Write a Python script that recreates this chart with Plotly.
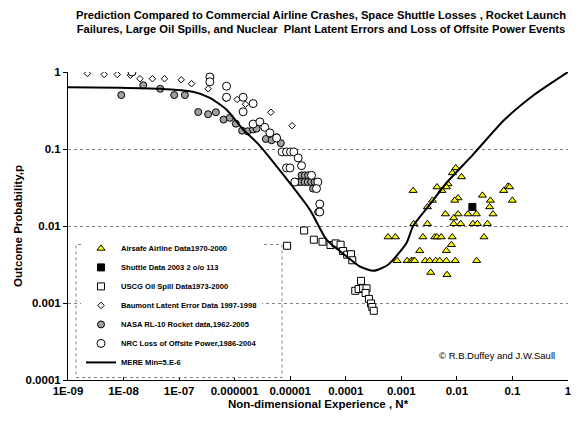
import plotly.graph_objects as go

# ---------------- data ----------------
airsafe_x = [9.53e-3, 8.30e-3, 1.21e-2, 1.63e-3, 4.39e-3, 6.92e-3, 6.47e-3, 5.39e-3, 0.0830, 0.0695,
             0.0891, 0.0288, 0.0105, 9.14e-3, 3.63e-3, 0.0401, 0.0995, 2.95e-3, 0.0389, 6.21e-3,
             0.0105, 0.0158, 0.0224, 0.0447, 8.77e-3, 8.77e-3, 0.0117, 0.0195, 0.0234, 0.0354,
             1.67e-3, 2.95e-3,
             5.77e-4, 7.83e-4, 2.45e-3, 3.99e-3, 4.39e-3, 5.22e-3, 8.24e-3, 0.0308,
             7.96e-3, 2.14e-3, 6.47e-3,
             8.38e-4, 1.27e-3, 1.51e-3, 1.63e-3, 1.74e-3, 2.69e-3, 3.24e-3, 4.16e-3, 4.91e-3, 6.47e-3,
             9.33e-3, 0.0227,
             3.38e-3, 6.64e-3]
airsafe_y = [0.0568, 0.0489, 0.0434, 0.0288, 0.0321, 0.0352, 0.0321, 0.0288, 0.0327, 0.0288,
             0.0321, 0.0250, 0.0231, 0.0215, 0.0215, 0.0215, 0.0215, 0.0177, 0.0177, 0.0143,
             0.0143, 0.0143, 0.0143, 0.0143, 0.0127, 0.0107, 0.0107, 0.0107, 0.0107, 0.0107,
             0.0107, 0.0107,
             0.00719, 0.00719, 0.00719, 0.00719, 0.00719, 0.00719, 0.00719, 0.00719,
             0.00571, 0.00478, 0.00478,
             0.00354, 0.00354, 0.00354, 0.00354, 0.00354, 0.00354, 0.00354, 0.00354, 0.00354, 0.00354,
             0.00354, 0.00354,
             0.00249, 0.00233]

shuttle_x = [0.0190]
shuttle_y = [0.0177]

uscg_x = [1.78e-5, 8.79e-6, 2.66e-5, 3.81e-5, 5.31e-5, 6.56e-5, 8.07e-5, 8.95e-5, 1.06e-4, 1.24e-4,
          1.31e-4,
          1.88e-4, 1.48e-4, 1.70e-4, 2.05e-4, 2.36e-4, 2.27e-4, 2.61e-4, 2.85e-4, 3.00e-4, 3.19e-4]
uscg_y = [0.00874, 0.00554, 0.00664, 0.00625, 0.00566, 0.00594, 0.00571, 0.00473, 0.00424, 0.00430,
          0.00359,
          0.00194, 0.00144, 0.00152, 0.00155, 0.00155, 0.00135, 0.00113, 0.000986, 0.000887, 0.000792]

baumont_x = [2.24e-9, 4.48e-9, 7.7e-9, 1.33e-8, 1.97e-8, 3.31e-8, 5.45e-8, 1.09e-7, 1.68e-7, 3.33e-7,
             6.85e-7, 1.11e-6, 1.57e-6, 4.48e-6, 1.08e-5]
baumont_y = [0.956, 0.928, 0.928, 0.909, 0.818, 0.818, 0.818, 0.792, 0.705, 0.605,
             0.452, 0.439, 0.381, 0.300, 0.201]

nasa_x = [9.1e-9, 2.26e-8, 4.57e-8, 8.17e-8, 1.27e-7, 2.21e-7, 3.33e-7, 4.59e-7, 6.31e-7, 8.2e-7,
          1.05e-6, 1.36e-6, 1.71e-6, 2.15e-6, 2.48e-6, 3.64e-6, 4.61e-6, 5.68e-6, 6.78e-6,
          1.60e-5, 1.83e-5, 2.10e-5,
          1.37e-5, 1.57e-5, 1.81e-5, 2.07e-5, 2.38e-5, 2.74e-5,
          2.58e-5, 3.18e-5]
nasa_y = [0.502, 0.673, 0.605, 0.502, 0.502, 0.302, 0.283, 0.300, 0.241, 0.254,
          0.213, 0.173, 0.170, 0.179, 0.184, 0.135, 0.130, 0.142, 0.119,
          0.0455, 0.0455, 0.0455,
          0.0373, 0.0373, 0.0373, 0.0373, 0.0373, 0.0373,
          0.0306, 0.0152]

nrc_x = [1.42e-8, 3.58e-7, 3.58e-7, 7.14e-7, 7.14e-7, 1.42e-6, 2.15e-6, 1.42e-6, 2.15e-6, 2.84e-6,
         3.49e-6, 4.3e-6, 5.68e-6, 7.14e-6, 8.59e-6, 1.01e-5, 1.16e-5, 1.39e-5, 1.60e-5, 8.59e-6,
         9.9e-6, 2.42e-5, 1.21e-5, 3.14e-5, 2.97e-5, 3.4e-5, 3.4e-5]
nrc_y = [1.0, 0.861, 0.746, 0.654, 0.470, 0.470, 0.389, 0.304, 0.211, 0.225,
         0.191, 0.162, 0.139, 0.0917, 0.0917, 0.0917, 0.0917, 0.0766, 0.0608, 0.0568,
         0.0568, 0.0455, 0.0373, 0.0373, 0.0306, 0.0193, 0.0152]

mere_x = [1e-9, 8.6e-9, 4.5e-8, 1.77e-7, 3.58e-7, 7.1e-7, 1.42e-6, 2.72e-6, 2.25e-5, 4.5e-5,
          1.03e-4, 1.79e-4, 3.19e-4, 5.77e-4, 1.24e-3, 1.62e-3, 3.24e-3, 6.47e-3, 0.0195, 0.0724,
          0.25, 1.0]
mere_y = [0.634, 0.625, 0.605, 0.553, 0.462, 0.325, 0.179, 0.114, 0.0163, 0.00664,
          0.00403, 0.00298, 0.00262, 0.00314, 0.00601, 0.00989, 0.0189, 0.0362, 0.0846, 0.241,
          0.51, 1.0]

x_tickvals = [1e-9, 1e-8, 1e-7, 1e-6, 1e-5, 1e-4, 1e-3, 1e-2, 1e-1, 1]
x_ticktext = ["1E-09", "1E-08", "1E-07", "0.000001", "0.00001", "0.0001", "0.001", "0.01", "0.1", "1"]
y_tickvals = [1e-4, 1e-3, 1e-2, 1e-1, 1]
y_ticktext = ["0.0001", "0.001", "0.01", "0.1", "1"]

FONT = "Liberation Sans, Arial, sans-serif"

fig = go.Figure()
fig.add_trace(go.Scatter(x=airsafe_x, y=airsafe_y, mode="markers", name="Airsafe Airline Data1970-2000",
                         marker=dict(symbol="triangle-up", size=7, color="#FFFF00",
                                     line=dict(color="black", width=1))))
fig.add_trace(go.Scatter(x=shuttle_x, y=shuttle_y, mode="markers", name="Shuttle Data 2003 2 o/o 113",
                         marker=dict(symbol="square", size=7, color="black",
                                     line=dict(color="black", width=1))))
fig.add_trace(go.Scatter(x=uscg_x, y=uscg_y, mode="markers", name="USCG Oil Spill Data1973-2000",
                         marker=dict(symbol="square", size=7, color="white",
                                     line=dict(color="black", width=1))))
fig.add_trace(go.Scatter(x=baumont_x, y=baumont_y, mode="markers", name="Baumont Latent Error Data 1997-1998",
                         marker=dict(symbol="diamond", size=5, color="white",
                                     line=dict(color="black", width=1))))
fig.add_trace(go.Scatter(x=nasa_x, y=nasa_y, mode="markers", name="NASA RL-10 Rocket data,1962-2005",
                         marker=dict(symbol="circle", size=7, color="#A0A0A0",
                                     line=dict(color="black", width=1))))
fig.add_trace(go.Scatter(x=nrc_x, y=nrc_y, mode="markers", name="NRC Loss of Offsite Power,1986-2004",
                         marker=dict(symbol="circle", size=8, color="white",
                                     line=dict(color="black", width=1))))
fig.add_trace(go.Scatter(x=mere_x, y=mere_y, mode="lines", name="MERE Min=5.E-6",
                         line=dict(color="black", width=2, shape="spline", smoothing=0.6)))

# page body has an 8px margin, so the figure is sized to fill the rest of the window
fig.update_layout(
    width=571, height=417,
    margin=dict(l=60, r=11, t=64, b=45, autoexpand=False),
    paper_bgcolor="white", plot_bgcolor="white",
    font=dict(family=FONT, size=11, color="black"),
    title=dict(text="Prediction Compared to Commercial Airline Crashes, Space Shuttle Losses , Rocket Launch<br>"
                    "Failures, Large Oil Spills, and Nuclear  Plant Latent Errors and Loss of Offsite Power Events",
               xref="paper", x=0.506, xanchor="center", yref="container", y=0.974, yanchor="top",
               font=dict(family=FONT, size=11.2, weight="bold", color="black")),
    showlegend=True,
    legend=dict(x=0.026, y=0.01, xanchor="left", yanchor="bottom",
                bgcolor="white", borderwidth=0,
                font=dict(family=FONT, size=7.6, weight="bold"),
                itemwidth=30, tracegroupgap=0),
    xaxis=dict(type="log", range=[-9, 0], tickvals=x_tickvals, ticktext=x_ticktext,
               showgrid=False, showline=True, linecolor="black", linewidth=1, automargin=False,
               ticks="inside", ticklen=4, tickcolor="black", zeroline=False,
               tickfont=dict(family=FONT, size=11.5, weight="bold"),
               title=dict(text="Non-dimensional Experience , N*", standoff=4,
                          font=dict(family=FONT, size=11.5, weight="bold"))),
    yaxis=dict(type="log", range=[-4, 0], tickvals=y_tickvals, ticktext=y_ticktext,
               showgrid=True, gridcolor="#808080", griddash="dot", gridwidth=1,
               showline=True, linecolor="black", linewidth=1, automargin=False,
               ticks="outside", ticklen=4, tickcolor="black", zeroline=False,
               tickfont=dict(family=FONT, size=11.5, weight="bold"),
               title=dict(text="Outcome Probability,p", standoff=0,
                          font=dict(family=FONT, size=11.5, weight="bold"))),
    shapes=[dict(type="rect", xref="paper", yref="paper", x0=0.016, x1=0.428, y0=0.008, y1=0.44,
                 line=dict(color="#808080", width=1, dash="dot"), fillcolor="rgba(0,0,0,0)", layer="above")],
    annotations=[dict(text="© R.B.Duffey and J.W.Saull", xref="paper", yref="paper",
                      x=0.978, y=0.081, xanchor="right", yanchor="middle", showarrow=False,
                      font=dict(family=FONT, size=9.5, color="black"))],
)

fig.write_html("out.html")
